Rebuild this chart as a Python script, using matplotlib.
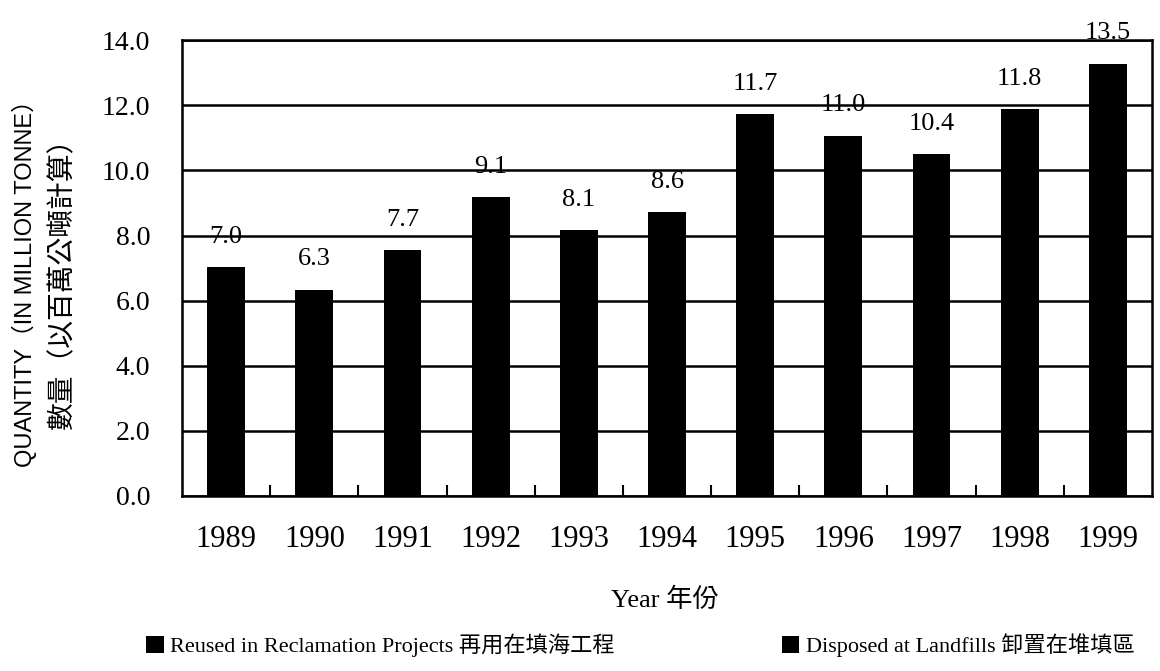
import numpy as np
import matplotlib.pyplot as plt
from matplotlib.patches import Patch

years = ['1989', '1990', '1991', '1992', '1993', '1994', '1995', '1996', '1997', '1998', '1999']
quantity = [7.03, 6.33, 7.55, 9.18, 8.17, 8.72, 11.73, 11.06, 10.5, 11.88, 13.28]
value_labels = ['7.0', '6.3', '7.7', '9.1', '8.1', '8.6', '11.7', '11.0', '10.4', '11.8', '13.5']
series_names = ['Reused in Reclamation Projects 再用在填海工程', 'Disposed at Landfills 卸置在堆填區']

serif = ['Liberation Serif', 'Noto Sans CJK TC']
sans = ['Liberation Sans', 'Noto Sans CJK TC']

fig = plt.figure(figsize=(11.6, 6.71), dpi=100)
ax = fig.add_axes([0.157, 0.261, 0.836, 0.679])

ind = np.arange(len(years))
bars = ax.bar(ind, quantity, 0.43, color='black', zorder=3)
for rect, lab in zip(bars, value_labels):
    ax.annotate(lab, (rect.get_x() + rect.get_width() / 2, rect.get_height()),
                xytext=(0, 14), textcoords='offset points', ha='center', va='bottom',
                fontsize=19, family=serif)

ax.set_xlim(-0.5, len(years) - 0.5)
ax.set_ylim(0, 14)
ax.set_yticks(np.arange(0, 14.1, 2))
ax.set_yticklabels(['%.1f' % v for v in np.arange(0, 14.1, 2)], family=serif, fontsize=20)
ax.yaxis.grid(True, color='black', linewidth=1.8, zorder=1)
ax.tick_params(axis='y', length=0, pad=23)

ax.set_xticks(ind)
ax.set_xticklabels(years, family=serif, fontsize=22)
ax.set_xticks(ind[:-1] + 0.5, minor=True)
ax.tick_params(axis='x', which='major', length=0, pad=21)
ax.tick_params(axis='x', which='minor', direction='in', length=8, width=1.5)
for s in ax.spines.values():
    s.set_linewidth(1.8)

fig.text(0.573, 0.106, 'Year 年份', ha='center', va='center', fontsize=19, family=serif)
fig.text(0.021, 0.586, 'QUANTITY（IN MILLION TONNE）', rotation=90, ha='center', va='center',
         fontsize=17, family=sans)
fig.text(0.054, 0.588, '數量（以百萬公噸計算）', rotation=90, ha='center', va='center',
         fontsize=20, family=serif)

handles = [Patch(facecolor='black', label=n) for n in series_names]
fig.legend(handles=handles, loc='center', bbox_to_anchor=(0.552, 0.038), ncol=2, frameon=False,
           handlelength=0.8, handleheight=0.8, handletextpad=0.3, columnspacing=7.5,
           prop={'family': serif, 'size': 16})

plt.savefig('out.png', dpi=100)
